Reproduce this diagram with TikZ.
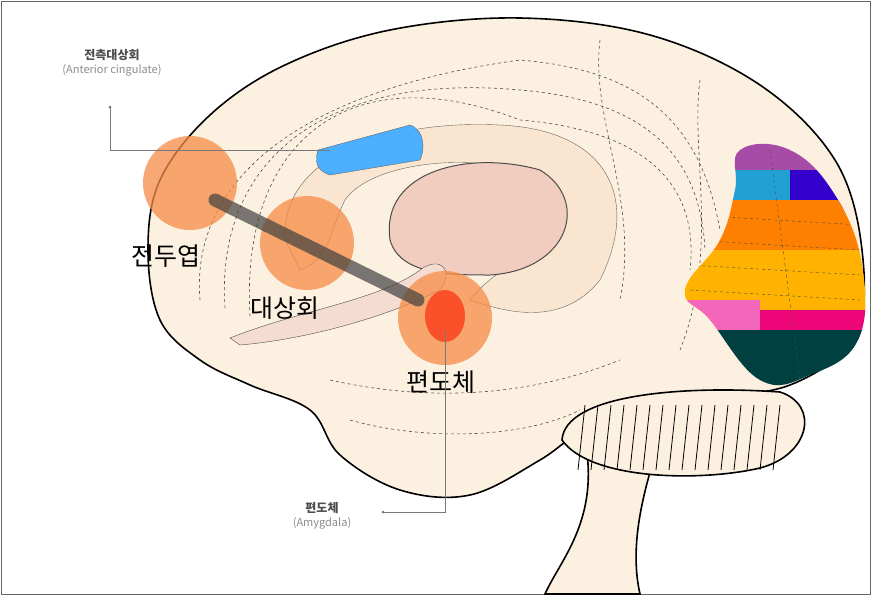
\documentclass[tikz,border=0pt]{standalone}
\usepackage{fontspec}
\setmainfont{Noto Sans CJK KR}
\usetikzlibrary{calc,positioning}
\definecolor{skin}{RGB}{252,241,224}
\definecolor{peach}{RGB}{248,222,196}
\definecolor{pinkish}{RGB}{240,205,190}
\definecolor{hot}{RGB}{246,140,70}
\definecolor{leader}{RGB}{120,120,120}
\tikzset{
    outline/.style={draw=black, line width=1.6pt, fill=skin},
    sulcus/.style={draw=black!70, dashed, line width=0.6pt},
    spot/.style={fill=hot, opacity=0.75},
    biglabel/.style={font=\fontsize{25}{27}\selectfont},
    smalllabel/.style={font=\bfseries\fontsize{12}{14}\selectfont, text=black!70},
    englabel/.style={font=\fontsize{11}{13}\selectfont, text=black!45}
}

\begin{document}
\begin{tikzpicture}[x=1pt, y=-1pt]

    % Frame of the picture
    \fill[white] (0,0) rectangle (871,595);
    \draw[black!60, line width=1pt] (1,1) rectangle (870,594);

    % Brainstem
    \draw[outline] (585,440) .. controls (600,520) and (560,560) .. (545,594)
        -- (640,594) .. controls (630,550) and (640,500) .. (660,440) -- cycle;

    % Cerebrum
    \draw[outline] plot[smooth cycle, tension=0.6] coordinates {
        (148,250) (160,180) (210,115) (285,65) (390,30) (520,18) (650,35)
        (760,85) (835,160) (862,250) (855,335) (790,385) (690,400) (600,420)
        (540,460) (470,495) (400,490) (340,455) (310,410) (250,385) (200,360)
        (160,320)};

    % Cerebellum
    \draw[outline] (562,440) .. controls (565,395) and (680,385) .. (780,392)
        .. controls (820,405) and (810,455) .. (760,468)
        .. controls (700,482) and (590,480) .. cycle;
    \foreach \i in {0,...,15}{
        \draw[black, line width=0.8pt] ({585+13*\i},405) -- ({578+13*\i},470);
    }

    % Sulci
    \foreach \r in {0,1,2}{
        \draw[sulcus] ({200+25*\r},{300+8*\r}) .. controls ({190+25*\r},{180-20*\r}) and ({300+25*\r},{90-18*\r}) .. ({520},{60+30*\r})
            .. controls (640,{70+30*\r}) and (700,{120+30*\r}) .. ({720-15*\r},{230+20*\r});
    }
    \draw[sulcus] (600,40) .. controls (590,120) and (640,200) .. (620,300);
    \draw[sulcus] (700,80) .. controls (690,150) and (720,250) .. (680,350);
    \draw[sulcus] (350,420) .. controls (420,440) and (520,440) .. (580,410);
    \draw[sulcus] (330,380) .. controls (420,400) and (520,400) .. (620,360);

    % Cingulate band, blue patch and thalamus
    \draw[black!60, fill=peach!80!white] (285,240) .. controls (280,150) and (400,120) .. (500,125)
        .. controls (610,130) and (640,200) .. (600,280)
        .. controls (560,330) and (500,310) .. (470,300)
        .. controls (500,260) and (560,250) .. (560,200)
        .. controls (540,150) and (380,150) .. (345,200)
        .. controls (330,230) and (330,260) .. (300,270) -- cycle;
    \draw[black!60, fill=blue!45!cyan!70!white]
        (318,150) -- (410,125) .. controls (425,130) and (425,150) .. (420,160)
        -- (330,175) .. controls (315,170) and (315,160) .. cycle;
    \draw[black!70, line width=1pt, fill=pinkish]
        (390,240) .. controls (380,170) and (470,150) .. (540,170)
        .. controls (590,200) and (570,270) .. (490,275)
        .. controls (450,275) and (400,275) .. cycle;
    \draw[black!70, fill=pinkish!70!white]
        (230,338) .. controls (300,310) and (380,300) .. (420,270)
        .. controls (440,255) and (455,270) .. (440,290)
        .. controls (380,320) and (300,340) .. (240,345) -- cycle;

    % Occipital colour map
    \begin{scope}
        \clip plot[smooth cycle, tension=0.7] coordinates {
            (740,150) (790,150) (835,195) (862,265) (858,340) (810,375)
            (760,380) (710,320) (685,290) (720,240) (735,190)};
        \fill[violet!70] (680,140) rectangle (871,170);
        \fill[cyan!70!teal] (680,170) rectangle (790,200);
        \fill[blue!60!violet] (790,170) rectangle (871,210);
        \fill[orange] (680,200) rectangle (871,250);
        \fill[orange!60!yellow] (680,250) rectangle (871,310);
        \fill[magenta!60] (680,300) rectangle (760,330);
        \fill[magenta!80!red] (760,310) rectangle (871,340);
        \fill[teal!50!black] (680,330) rectangle (871,390);
        \foreach \y in {215,240,265,290}{
            \draw[black!70, dashed] (690,\y) -- (860,{\y+10});
        }
        \draw[black!70, dashed] (770,150) -- (800,380);
    \end{scope}

    % Highlighted regions
    \fill[spot] (190,183) circle (47);
    \fill[spot] (307,243) circle (47);
    \fill[spot] (445,318) circle (47);
    \fill[red!80!orange, opacity=0.6] (445,316) ellipse (20 and 26);
    \draw[black!75, line width=13pt, line cap=round, opacity=0.7] (215,200) -- (418,300);

    % Labels on the picture
    \node[biglabel] (frontal) at (166,256) {전두엽};
    \node[biglabel] (cingulate) at (285,308) {대상회};
    \node[biglabel] (amygdala) at (441,382) {편도체};

    % Leader labels
    \node[smalllabel] (acc) at (112,55) {전측대상회};
    \node[englabel, below=-3pt of acc] (acceng) {(Anterior cingulate)};
    \node[smalllabel] (amy) at (322,508) {편도체};
    \node[englabel, below=-3pt of amy] (amyeng) {(Amygdala)};
    \coordinate (accend) at (330,150);
    \coordinate (amyend) at (445,330);
    \fill[leader] (110,107) circle (1.5);
    \draw[leader, line width=0.8pt] (110,107) |- (accend);
    \fill[leader] (383,512) circle (1.5);
    \draw[leader, line width=0.8pt] (383,512) -| (amyend);

\end{tikzpicture}
\end{document}
